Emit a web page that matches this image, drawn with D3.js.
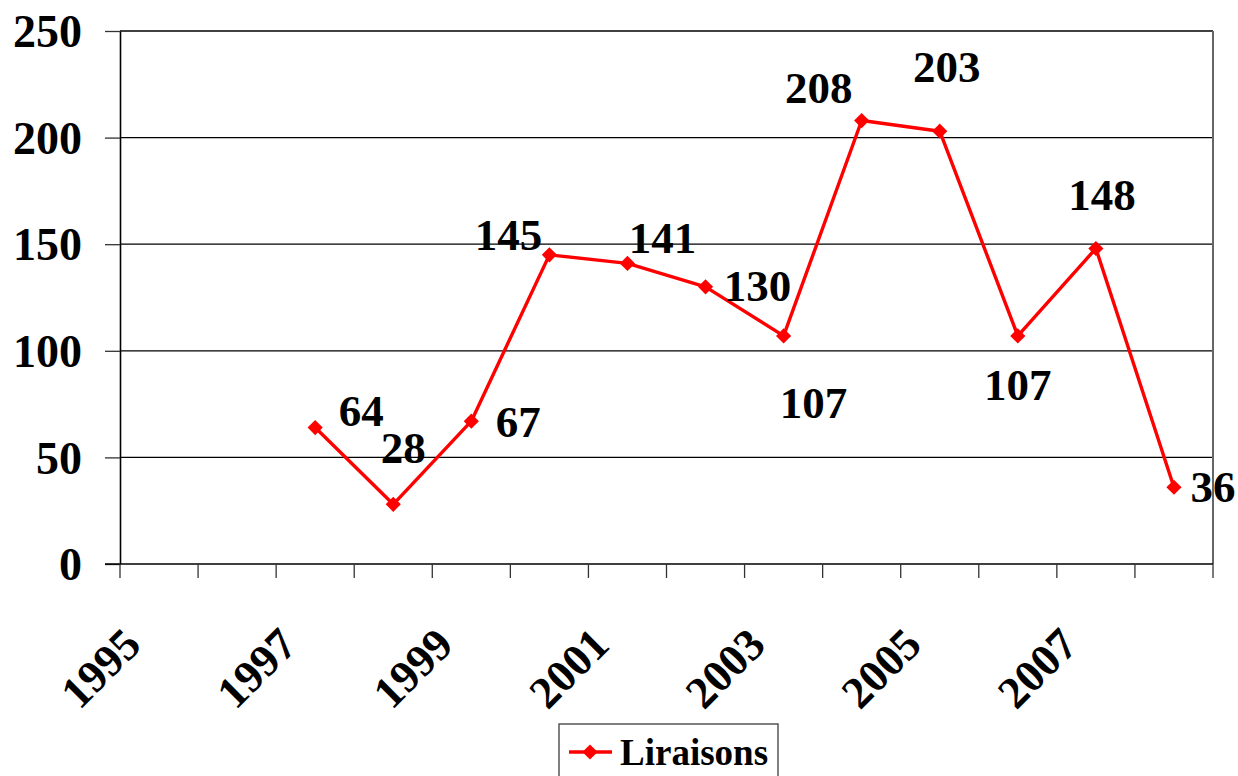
<!DOCTYPE html>
<html>
<head>
<meta charset="utf-8">
<script src="https://cdn.jsdelivr.net/npm/d3@7"></script>
<style>
  html, body { margin: 0; padding: 0; background: #fff; }
  svg { display: block; font-family: "Liberation Serif", "Times New Roman", serif; font-weight: bold; }
</style>
</head>
<body>
<div id="chart"></div>
<script>
// categories (years on the axis) and the single series
const years = [1995, 1996, 1997, 1998, 1999, 2000, 2001, 2002, 2003, 2004, 2005, 2006, 2007, 2008]
const seriesYears = [1997, 1998, 1999, 2000, 2001, 2002, 2003, 2004, 2005, 2006, 2007, 2008]
const liraisons = [64, 28, 67, 145, 141, 130, 107, 208, 203, 107, 148, 36]
const yTicks = [0, 50, 100, 150, 200, 250]
const xLabelYears = [1995, 1997, 1999, 2001, 2003, 2005, 2007]
const seriesName = "Liraisons"

// where Excel put each data label, relative to its point (px)
const labelNudge = [[46, -2], [10, -41], [47, 16], [-41, -5], [35, -10], [52, 14],
                    [30, 82], [-43, -18], [7, -49], [0, 64], [6, -38], [39, 15]]

const width = 1238, height = 776
const margin = {top: 31, right: 25, bottom: 212, left: 120}

const svg = d3.select("#chart").append("svg")
    .attr("width", width)
    .attr("height", height)

const x = d3.scaleBand()
    .domain(years)
    .range([margin.left, width - margin.right])
    .padding(0)

const y = d3.scaleLinear()
    .domain([0, 250])
    .range([height - margin.bottom, margin.top])

const x0 = x.range()[0], x1 = x.range()[1]
const yBase = y(0)

// Gridlines
svg.append("g")
  .selectAll("line")
  .data(yTicks.filter(d => d > 0))
  .join("line")
    .attr("x1", x0).attr("x2", x1)
    .attr("y1", d => y(d)).attr("y2", d => y(d))
    .attr("stroke", "#000")
    .attr("stroke-width", 1.3)

// Right border of plot area
svg.append("line")
    .attr("x1", x1).attr("x2", x1)
    .attr("y1", y(250)).attr("y2", yBase)
    .attr("stroke", "#666")
    .attr("stroke-width", 2)

// Y axis
const yAxis = svg.append("g")
    .attr("transform", `translate(${x0},0)`)
    .call(d3.axisLeft(y).tickValues(yTicks).tickSize(15).tickPadding(23).tickSizeOuter(0))
yAxis.select(".domain").attr("stroke", "#000").attr("stroke-width", 1.6)
yAxis.selectAll(".tick line").attr("stroke", "#333").attr("stroke-width", 1.3)
yAxis.selectAll(".tick text")
    .attr("font-size", 46)
    .attr("font-family", "Liberation Serif, Times New Roman, serif")
    .attr("font-weight", "bold")
    .attr("fill", "#000")
    .attr("dy", "0.34em")

// X axis line and ticks at category boundaries
svg.append("line")
    .attr("x1", x0 - 15).attr("x2", x1)
    .attr("y1", yBase).attr("y2", yBase)
    .attr("stroke", "#000")
    .attr("stroke-width", 1.6)

const edges = years.map(d => x(d)).concat([x1])
svg.append("g")
  .selectAll("line")
  .data(edges)
  .join("line")
    .attr("x1", d => d).attr("x2", d => d)
    .attr("y1", yBase).attr("y2", yBase + 14)
    .attr("stroke", "#333")
    .attr("stroke-width", 1.3)

// X labels, rotated
svg.append("g")
  .selectAll("text")
  .data(xLabelYears)
  .join("text")
    .attr("transform", d => `translate(${x(d) + x.bandwidth() / 2 - 16},${yBase + 83}) rotate(-45)`)
    .attr("text-anchor", "end")
    .attr("font-size", 45)
    .attr("fill", "#000")
    .text(d => d)

// Series
const pts = seriesYears.map((yr, i) => ({year: yr, value: liraisons[i], i}))
const cx = d => x(d.year) + x.bandwidth() / 2

const line = d3.line()
    .x(cx)
    .y(d => y(d.value))

svg.append("path")
    .datum(pts)
    .attr("fill", "none")
    .attr("stroke", "#ff0000")
    .attr("stroke-width", 3.4)
    .attr("stroke-linejoin", "round")
    .attr("d", line)

const diamond = d3.symbol().type(d3.symbolSquare).size(115)
svg.append("g")
  .selectAll("path")
  .data(pts)
  .join("path")
    .attr("transform", d => `translate(${cx(d)},${y(d.value)}) rotate(45)`)
    .attr("d", diamond)
    .attr("fill", "#ff0000")

// Data labels
svg.append("g")
  .selectAll("text")
  .data(pts)
  .join("text")
    .attr("x", d => cx(d) + labelNudge[d.i][0])
    .attr("y", d => y(d.value) + labelNudge[d.i][1])
    .attr("text-anchor", "middle")
    .attr("font-size", 45)
    .attr("fill", "#000")
    .text(d => d.value)

// Legend
const legend = svg.append("g").attr("transform", "translate(559,724)")
legend.append("rect")
    .attr("width", 219).attr("height", 70)
    .attr("fill", "#fff")
    .attr("stroke", "#555")
    .attr("stroke-width", 1.5)
legend.append("line")
    .attr("x1", 10).attr("x2", 53)
    .attr("y1", 28).attr("y2", 28)
    .attr("stroke", "#ff0000")
    .attr("stroke-width", 3.4)
legend.append("path")
    .attr("transform", "translate(31,28) rotate(45)")
    .attr("d", diamond)
    .attr("fill", "#ff0000")
legend.append("text")
    .attr("x", 61).attr("y", 41)
    .attr("font-size", 37)
    .attr("fill", "#000")
    .text(seriesName)
</script>
</body>
</html>
